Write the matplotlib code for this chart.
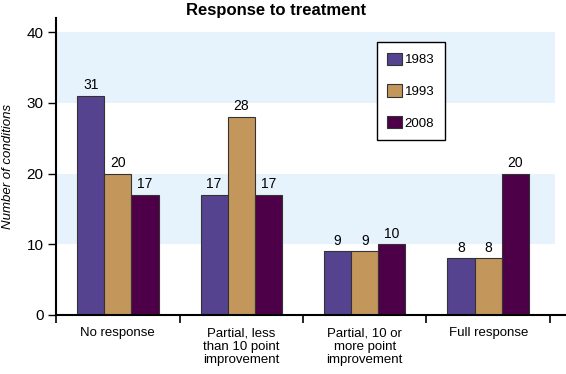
import numpy as np
import matplotlib
matplotlib.use('Agg')
import matplotlib.pyplot as plt

plt.rcParams['font.family'] = ['Liberation Sans', 'DejaVu Sans']

categories = ['No response', 'Partial, less\nthan 10 point\nimprovement',
              'Partial, 10 or\nmore point\nimprovement', 'Full response']
years = ['1983', '1993', '2008']
vals_1983 = [31, 17, 9, 8]
vals_1993 = [20, 28, 9, 8]
vals_2008 = [17, 17, 10, 20]
series = [vals_1983, vals_1993, vals_2008]
colors = ['#55438f', '#c3965c', '#4d0048']

fig = plt.figure(figsize=(5.66, 3.74), dpi=100)
ax = fig.add_axes([0.099, 0.158, 0.901, 0.794])

x = np.arange(len(categories))
w = 0.22

# light blue bands
for lo, hi in [(10, 20), (30, 40)]:
    ax.fill_between([-0.5, 3.54], lo, hi, color='#e6f2fc', lw=0, zorder=0)

for i, (vals, col, yr) in enumerate(zip(series, colors, years)):
    bars = ax.bar(x + (i - 1) * w, vals, w, color=col, edgecolor='#333333',
                  linewidth=0.8, label=yr, zorder=2)
    for b, v in zip(bars, vals):
        ax.text(b.get_x() + b.get_width() / 2, v + 0.5, str(v), ha='center',
                va='bottom', fontsize=10)

ax.set_xlim(-0.5, 3.63)
ax.set_ylim(0, 42)
ax.set_yticks([0, 10, 20, 30, 40])
ax.set_xticks([-0.5, 0.5, 1.5, 2.5, 3.5])
ax.set_xticklabels([])
ax.set_xticks(x, minor=True)
ax.set_xticklabels(categories, minor=True, fontsize=9.5, linespacing=1.15, va='top')
ax.tick_params(axis='x', which='minor', length=0, pad=9)
ax.tick_params(axis='x', which='major', length=6, width=1.2, direction='out')
ax.tick_params(axis='y', length=5.5, width=1, labelsize=11)

for s in ['top', 'right']:
    ax.spines[s].set_visible(False)
ax.spines['left'].set_linewidth(1.5)
ax.spines['bottom'].set_linewidth(1.5)

ax.set_ylabel('Number of conditions', style='italic', fontsize=9.5, labelpad=9)
fig.text(0.488, 0.972, 'Response to treatment', ha='center', va='center',
         fontsize=12, fontweight='bold')

leg = ax.legend(loc='upper left', bbox_to_anchor=(0.629, 0.919), fontsize=9.5,
                handlelength=1.1, handleheight=1.1, handletextpad=0.2,
                labelspacing=1.35, borderpad=0.8, borderaxespad=0,
                fancybox=False, edgecolor='black', framealpha=1)
leg.get_frame().set_linewidth(1.0)

fig.savefig('out.png', dpi=100)
